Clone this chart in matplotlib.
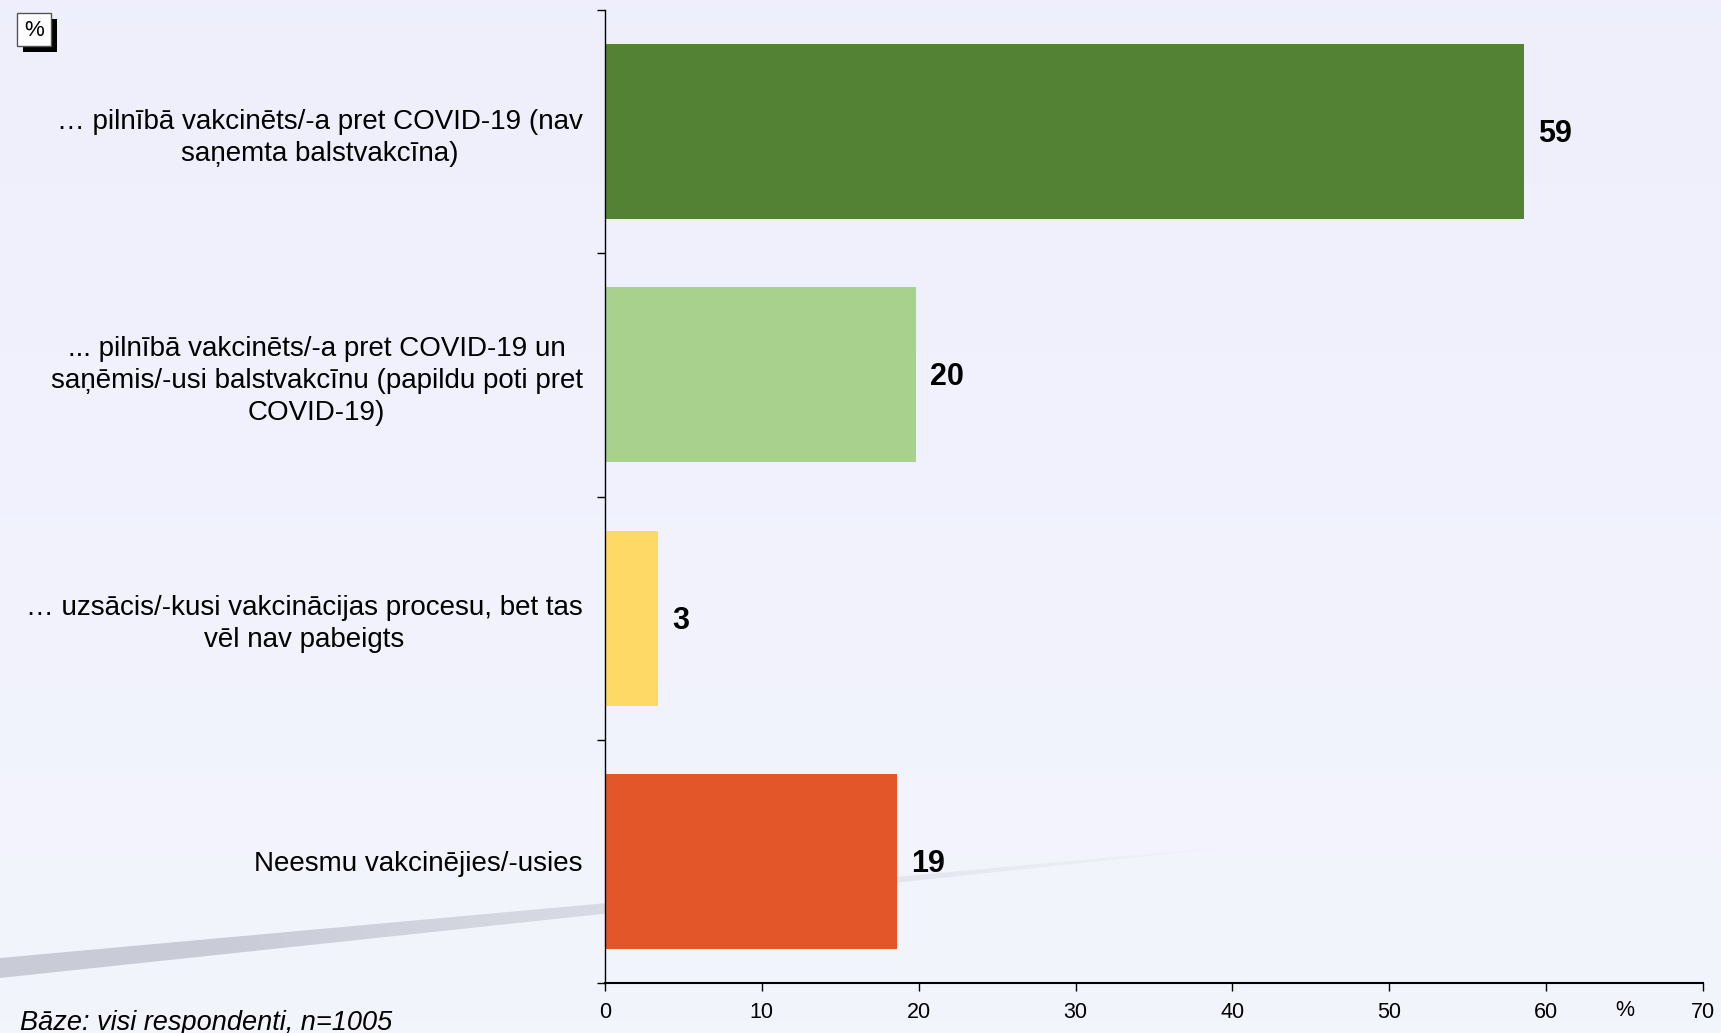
import numpy as np
import matplotlib
matplotlib.use("Agg")
import matplotlib.pyplot as plt
from matplotlib.patches import Polygon, Rectangle

plt.rcParams["font.family"] = ["Liberation Sans", "DejaVu Sans"]

categories = [
    "… pilnībā vakcinēts/-a pret COVID-19 (nav\nsaņemta balstvakcīna)",
    "... pilnībā vakcinēts/-a pret COVID-19 un\nsaņēmis/-usi balstvakcīnu (papildu poti pret\nCOVID-19)",
    "… uzsācis/-kusi vakcinācijas procesu, bet tas\nvēl nav pabeigts",
    "Neesmu vakcinējies/-usies",
]
values = [58.6, 19.8, 3.4, 18.6]
value_labels = ["59", "20", "3", "19"]
colors = ["#548235", "#A9D18E", "#FFD966", "#E35629"]
xticks = [0, 10, 20, 30, 40, 50, 60, 70]

W, H = 1721, 1033
fig = plt.figure(figsize=(W / 100, H / 100), dpi=100)

# background gradient + grey swoosh
bg = fig.add_axes([0, 0, 1, 1], zorder=0)
bg.set_xlim(0, W)
bg.set_ylim(H, 0)
bg.axis("off")
grad = np.linspace(0, 1, 256)[:, None]
top = np.array([0.937, 0.937, 0.992])
bot = np.array([0.953, 0.961, 0.992])
img = top + (bot - top) * grad[:, :, None]
img = np.repeat(img, 2, axis=1)
bg.imshow(img, extent=[0, W, H, 0], aspect="auto")

sw = Polygon([(0, 958), (1270, 843), (0, 978)], closed=True, facecolor="none", edgecolor="none")
bg.add_patch(sw)
hg = np.linspace(0, 1, 512)[None, :]
sw_img = np.zeros((1, 512, 4))
sw_img[..., 0] = 0.79
sw_img[..., 1] = 0.80
sw_img[..., 2] = 0.84
sw_img[..., 3] = np.clip(1.2 - hg * 1.2, 0, 1)
im = bg.imshow(sw_img, extent=[0, 1270, 980, 840], aspect="auto")
im.set_clip_path(sw)

# main chart
ax = fig.add_axes([605 / W, 1 - 983 / H, (1703 - 605) / W, (983 - 10) / H], zorder=1)
ax.patch.set_alpha(0)
y = np.arange(len(categories))
ax.barh(y, values, height=0.72, color=colors)
ax.set_ylim(len(categories) - 0.5, -0.5)
ax.set_xlim(0, 70)

for yi, v, lab in zip(y, values, value_labels):
    ax.text(v + 0.9, yi + 0.01, lab, va="center", ha="left", fontsize=22, fontweight="bold")

ax.set_yticks(y)
ax.set_yticklabels(categories, fontsize=20, multialignment="center", linespacing=1.3)
ax.tick_params(axis="y", length=0, pad=16)
ax.set_yticks(np.arange(-0.5, len(categories), 1), minor=True)
ax.tick_params(axis="y", which="minor", length=6, width=1)

ax.set_xticks(xticks)
ax.set_xticklabels([str(t) for t in xticks], fontsize=15.5)
ax.tick_params(axis="x", length=6, width=1, pad=8)
ax.text(65, -0.017, "%", transform=ax.get_xaxis_transform(), ha="center", va="top", fontsize=15.5)

for s in ["top", "right"]:
    ax.spines[s].set_visible(False)
ax.spines["left"].set_linewidth(1)
ax.spines["bottom"].set_linewidth(1.5)

# % box in the top-left corner
fig.patches.append(Rectangle((23 / W, 1 - 52 / H), 34 / W, 33 / H, transform=fig.transFigure,
                             facecolor="black", edgecolor="none", zorder=2))
fig.patches.append(Rectangle((17 / W, 1 - 46 / H), 34 / W, 33 / H, transform=fig.transFigure,
                             facecolor="white", edgecolor="#555555", linewidth=1, zorder=3))
fig.text(34 / W, 1 - 30 / H, "%", ha="center", va="center", fontsize=16, zorder=4)

fig.text(20 / W, 1 - 1030 / H, "Bāze: visi respondenti, n=1005", fontsize=19.5, style="italic",
         ha="left", va="baseline")

fig.savefig("out.png", dpi=100)
